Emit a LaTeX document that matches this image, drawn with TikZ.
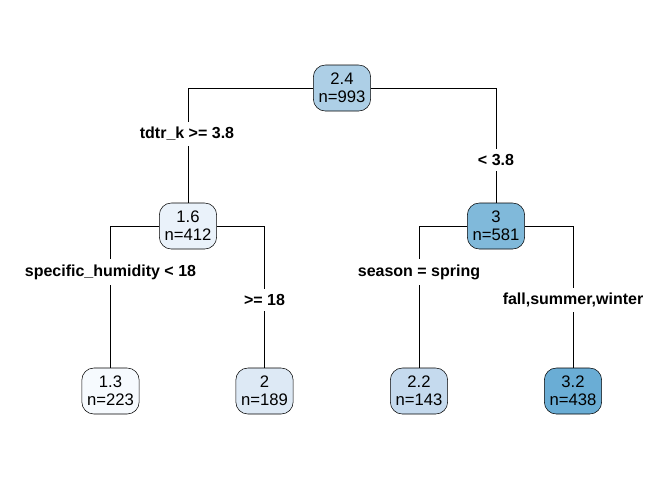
\documentclass[tikz,border=0pt]{standalone}
\usepackage{fontspec}
\setmainfont{Liberation Sans}
\definecolor{cRoot}{HTML}{ADCFE6}
\definecolor{cLeft}{HTML}{EAF2FA}
\definecolor{cRight}{HTML}{80B9DA}
\definecolor{cLL}{HTML}{F6FAFE}
\definecolor{cLR}{HTML}{DDE9F5}
\definecolor{cRL}{HTML}{C5DAEE}
\definecolor{cRR}{HTML}{6AADD5}
\tikzset{
  treenode/.style={draw, thin, rounded corners=9pt, align=center, inner sep=1pt,
    minimum width=43pt, minimum height=34.5pt, font=\fontsize{12.5}{13.5}\selectfont},
  splitlabel/.style={fill=white, inner xsep=1pt, inner ysep=4pt,
    font=\bfseries\fontsize{12}{14}\selectfont}
}
\begin{document}
\begin{tikzpicture}[x=0.75pt, y=-0.75pt]
    \def\ya{88}
    \def\yb{226}
    \def\yc{391}
    \useasboundingbox (0,0) rectangle (672,480);

    % Draw the root and the two inner nodes
    \node[treenode, fill=cRoot] (root) at (342, \ya) {2.4\\n=993};
    \node[treenode, fill=cLeft] (left) at (188, \yb) {1.6\\n=412};
    \node[treenode, fill=cRight] (right) at (496, \yb) {3\\n=581};

    % Draw the leaves
    \node[treenode, fill=cLL] (ll) at (110.5, \yc) {1.3\\n=223};
    \node[treenode, fill=cLR] (lr) at (264.5, \yc) {2\\n=189};
    \node[treenode, fill=cRL] (rl) at (419, \yc) {2.2\\n=143};
    \node[treenode, fill=cRR] (rr) at (573, \yc) {3.2\\n=438};

    % Draw the branches
    \draw (root.west) -| (left.north);
    \draw (root.east) -| (right.north);
    \draw (left.west) -| (ll.north);
    \draw (left.east) -| (lr.north);
    \draw (right.west) -| (rl.north);
    \draw (right.east) -| (rr.north);

    % Split labels on top of the branches
    \node[splitlabel] (s1) at (187, 134) {tdtr\_k >= 3.8};
    \node[splitlabel] (s2) at (496, 160) {< 3.8};
    \node[splitlabel] (s3) at (110.5, 272) {specific\_humidity < 18};
    \node[splitlabel] (s4) at (264.5, 300) {>= 18};
    \node[splitlabel] (s5) at (419, 272) {season = spring};
    \node[splitlabel] (s6) at (573, 300) {fall,summer,winter};
\end{tikzpicture}
\end{document}
